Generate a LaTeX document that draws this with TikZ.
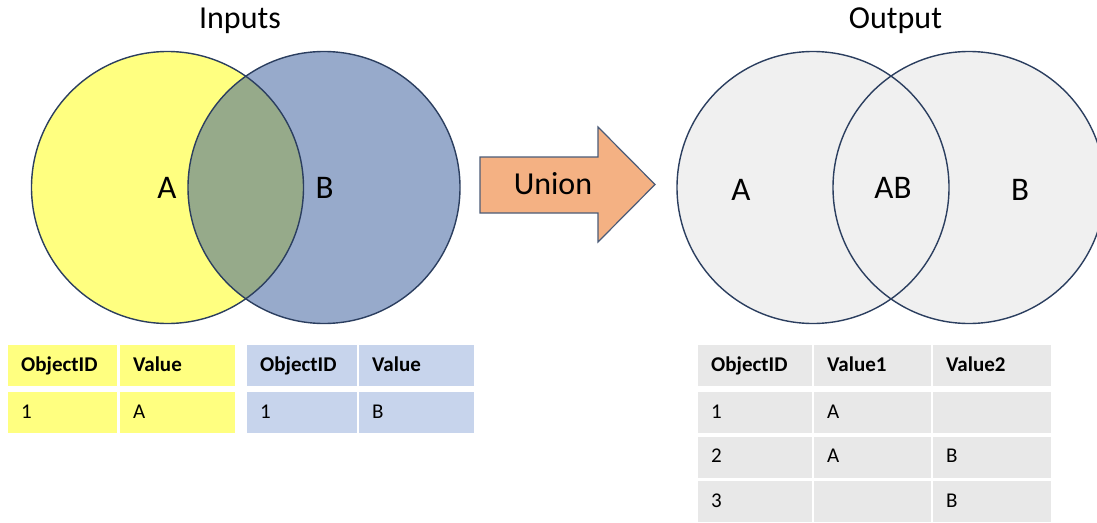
\documentclass[tikz,border=0pt]{standalone}
\usepackage{fontspec}
\setmainfont{Carlito}
\usepackage{tikz}
\usetikzlibrary{positioning}

\definecolor{setyellow}{HTML}{FFFF80}
\definecolor{setblue}{HTML}{97AACB}
\definecolor{setboth}{HTML}{96AA8A}
\definecolor{outgrey}{HTML}{F0F0F0}
\definecolor{rimblue}{HTML}{2B3E5F}
\definecolor{arrowfill}{HTML}{F4B183}
\definecolor{rowyellow}{HTML}{FFFF80}
\definecolor{rowblue}{HTML}{C7D4EC}
\definecolor{rowgrey}{HTML}{E8E8E8}

\begin{document}
\begin{tikzpicture}[x=1pt, y=-1pt,
    title node/.style={font=\fontsize{32}{38}\selectfont, anchor=base},
    set label/.style={font=\fontsize{33}{40}\selectfont, anchor=base},
    rim/.style={draw=rimblue, line width=1.4pt},
    cell/.style={anchor=north west, inner xsep=13pt, inner ysep=0pt,
                 minimum height=41pt, text height=15pt, text depth=4pt,
                 text width=#1, align=left, font=\fontsize{21}{25}\selectfont},
    head/.style={cell=#1, font=\fontsize{21}{25}\selectfont\bfseries}]

  \useasboundingbox (0,0) rectangle (1097,522);

  % inputs
  \node[title node] (inputs) at (240,28) {Inputs};
  \coordinate (ca) at (167.5,187.5);
  \coordinate (cb) at (324,187.5);
  \fill[setyellow] (ca) circle (136pt);
  \fill[setblue] (cb) circle (136pt);
  \begin{scope}
    \clip (ca) circle (136pt);
    \fill[setboth] (cb) circle (136pt);
  \end{scope}
  \draw[rim] (ca) circle (136pt);
  \draw[rim] (cb) circle (136pt);
  \node[set label] (la) at (167,198) {A};
  \node[set label] (lb) at (324.5,198) {B};

  % union arrow
  \draw[draw=rimblue!85, line width=1.2pt, fill=arrowfill, line join=miter]
    (480,157) -- (598,157) -- (598,127) -- (655,184.5) -- (598,242)
    -- (598,213) -- (480,213) -- cycle;
  \node[title node] (union) at (553,194) {Union};

  % output
  \node[title node] (output) at (895.5,28) {Output};
  \coordinate (oa) at (813,187.5);
  \coordinate (ob) at (969,187.5);
  \fill[outgrey] (oa) circle (136pt);
  \fill[outgrey] (ob) circle (136pt);
  \draw[rim] (oa) circle (136pt);
  \draw[rim] (ob) circle (136pt);
  \node[set label] (oA) at (741,200) {A};
  \node[set label] (oAB) at (893,198) {AB};
  \node[set label] (oB) at (1020,200) {B};

  % table A
  \node[head=83pt, fill=rowyellow] (y11) at (8,345) {ObjectID};
  \node[head=89pt, fill=rowyellow] (y12) at (120,345) {Value};
  \node[cell=83pt, fill=rowyellow] (y21) at (8,392) {1};
  \node[cell=89pt, fill=rowyellow] (y22) at (120,392) {A};

  % table B
  \node[head=84pt, fill=rowblue] (b11) at (247,345) {ObjectID};
  \node[head=89pt, fill=rowblue] (b12) at (359,345) {Value};
  \node[cell=84pt, fill=rowblue] (b21) at (247,392) {1};
  \node[cell=89pt, fill=rowblue] (b22) at (359,392) {B};

  % table union
  \node[head=88pt, fill=rowgrey] (g11) at (698,345) {ObjectID};
  \node[head=91pt, fill=rowgrey] (g12) at (814,345) {Value1};
  \node[head=92pt, fill=rowgrey] (g13) at (933,345) {Value2};
  \node[cell=88pt, fill=rowgrey] (g21) at (698,392) {1};
  \node[cell=91pt, fill=rowgrey] (g22) at (814,392) {A};
  \node[cell=92pt, fill=rowgrey] (g23) at (933,392) {};
  \node[cell=88pt, fill=rowgrey] (g31) at (698,436.5) {2};
  \node[cell=91pt, fill=rowgrey] (g32) at (814,436.5) {A};
  \node[cell=92pt, fill=rowgrey] (g33) at (933,436.5) {B};
  \node[cell=88pt, fill=rowgrey] (g41) at (698,481) {3};
  \node[cell=91pt, fill=rowgrey] (g42) at (814,481) {};
  \node[cell=92pt, fill=rowgrey] (g43) at (933,481) {B};
\end{tikzpicture}
\end{document}
